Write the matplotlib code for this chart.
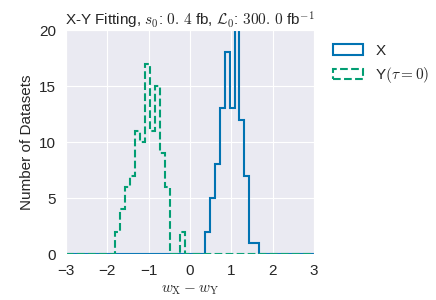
import numpy as np
import matplotlib
matplotlib.use("Agg")
import matplotlib.pyplot as plt
import seaborn as sns

sns.set_style("darkgrid")
plt.rcParams['font.family'] = ['Liberation Sans', 'DejaVu Sans']
plt.rcParams['mathtext.fontset'] = 'cm'

# histogram bins: 50 bins between -3 and 3
edges = np.linspace(-3, 3, 51)

# counts of datasets per bin (bins not listed are empty)
x_first_bin = 28
x_counts = [2, 5, 8, 13, 18, 13, 20, 12, 7, 1, 1]
y_first_bin = 10
y_counts = [2, 4, 6, 7, 11, 10, 17, 11, 15, 9, 6, 0, 0, 2]

labels = ["X", r"Y$(\tau = 0)$"]
colors = sns.color_palette("colorblind")


def full_counts(first, counts):
    c = np.zeros(len(edges) - 1)
    c[first:first + len(counts)] = counts
    return c


centers = 0.5 * (edges[:-1] + edges[1:])

fig = plt.figure(figsize=(4.36, 3.0), dpi=100)
ax = fig.add_axes([0.151, 0.153, 0.569, 0.747])

ax.hist(centers, bins=edges, weights=full_counts(x_first_bin, x_counts),
        histtype='step', color=colors[0], lw=1.5, label=labels[0])
ax.hist(centers, bins=edges, weights=full_counts(y_first_bin, y_counts),
        histtype='step', color=colors[2], lw=1.5, ls='--', label=labels[1])

ax.set_xlim(-3, 3)
ax.set_ylim(0, 20)
ax.set_xticks(range(-3, 4))
ax.set_yticks([0, 5, 10, 15, 20])
ax.tick_params(labelsize=11)
ax.set_xlabel(r"$w_{\rm X} - w_{\rm Y}$", fontsize=11)
ax.set_ylabel("Number of Datasets", fontsize=11)
ax.set_title(r"X-Y Fitting, $s_0$: $0.\,4$ fb, $\mathcal{L}_0$: $300.\,0$ fb$^{-1}$",
             fontsize=11, pad=3)
ax.legend(loc='upper left', bbox_to_anchor=(1.02, 1.0), frameon=False, fontsize=11)

fig.savefig("out.png", dpi=100)
